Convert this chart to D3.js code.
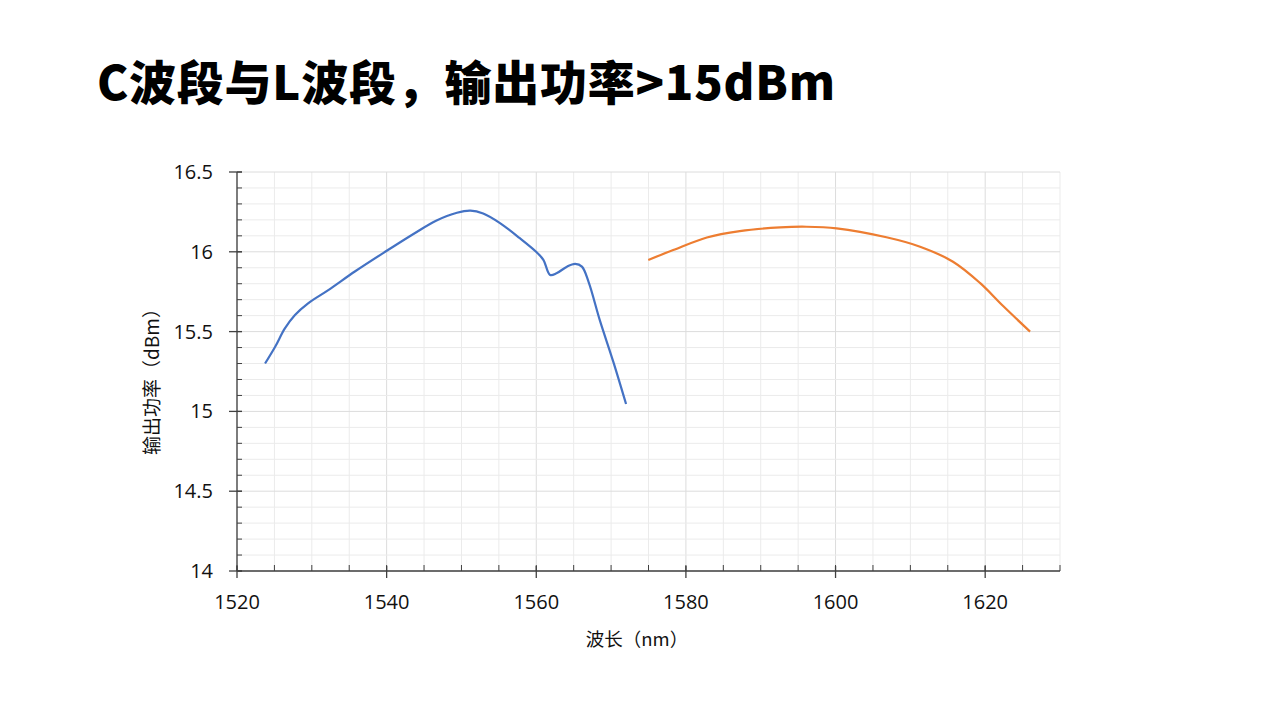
<!DOCTYPE html>
<html><head><meta charset="utf-8">
<script src="https://cdn.jsdelivr.net/npm/d3@7/dist/d3.min.js"></script>
<style>
html,body{margin:0;padding:0;background:#fff;}
svg{display:block;}
</style></head>
<body>
<svg id="chart" width="1269" height="714"></svg>
<script>
const title = "C波段与L波段，输出功率>15dBm";
const xTitle = "波长（nm）";
const yTitle = "输出功率（dBm）";
const xTicks = [1520, 1540, 1560, 1580, 1600, 1620];
const yTicks = [14, 14.5, 15, 15.5, 16, 16.5];
const cBandWl = [1523.75, 1525.1, 1526.4, 1527.75, 1529.5, 1532.2, 1535.8, 1539.8, 1543.8, 1546.6, 1549.4, 1551.2, 1552.9, 1555.15, 1557.8, 1560.05, 1560.95, 1561.85, 1562.7, 1564.1, 1565.2, 1566.1, 1567.0, 1568.5, 1570.3, 1572.0];
const cBandP  = [15.30, 15.405, 15.52, 15.604, 15.677, 15.76, 15.878, 16.0, 16.118, 16.195, 16.245, 16.258, 16.24, 16.18, 16.085, 15.997, 15.95, 15.855, 15.865, 15.907, 15.924, 15.907, 15.81, 15.57, 15.31, 15.046];
const lBandWl = [1574.97, 1578.3, 1582.8, 1587.2, 1592.6, 1596.1, 1600.15, 1606.8, 1611.3, 1615.7, 1619.3, 1622.4, 1626.0];
const lBandP  = [15.949, 16.011, 16.09, 16.13, 16.153, 16.157, 16.147, 16.091, 16.032, 15.938, 15.805, 15.66, 15.50];

const svg = d3.select("#chart");
const L = 237, R = 1060, T = 172, B = 571;
const x = d3.scaleLinear().domain([1520, 1630]).range([L, R]);
const y = d3.scaleLinear().domain([14, 16.5]).range([B, T]);

// grid
const g = svg.append("g");
const xMinor = d3.range(1520, 1630.001, 5);
const yMinor = d3.range(0, 26).map(i => 14 + i * 0.1);
g.selectAll(".vg").data(xMinor).join("line")
  .attr("x1", d => x(d)).attr("x2", d => x(d)).attr("y1", T).attr("y2", B)
  .attr("stroke", d => (Math.abs(d % 20) < 1e-6 ? "#dcdcdc" : "#ebebeb")).attr("stroke-width", 1);
g.selectAll(".hg").data(yMinor).join("line")
  .attr("x1", L).attr("x2", R).attr("y1", d => y(d)).attr("y2", d => y(d))
  .attr("stroke", (d, i) => (i % 5 === 0 ? "#dcdcdc" : "#ebebeb")).attr("stroke-width", 1);

const axisColor = "#404040";
// x axis
const xa = svg.append("g").attr("transform", `translate(0,${B})`);
xa.append("line").attr("x1", L).attr("x2", R).attr("stroke", axisColor).attr("stroke-width", 1.3);
xa.selectAll(".mt").data(xMinor).join("line")
  .attr("x1", d => x(d)).attr("x2", d => x(d)).attr("y1", -6).attr("y2", 0)
  .attr("stroke", axisColor);
xa.selectAll(".Mt").data(xTicks).join("line")
  .attr("x1", d => x(d)).attr("x2", d => x(d)).attr("y1", -5).attr("y2", 7)
  .attr("stroke", axisColor).attr("stroke-width", 1.3);
xa.selectAll(".xl").data(xTicks).join("text")
  .attr("x", d => x(d)).attr("y", 38).attr("text-anchor", "middle")
  .attr("font-family", "'Open Sans','Noto Sans',sans-serif").attr("font-size", 20).attr("fill", "#111")
  .text(d => d);

// y axis
const ya = svg.append("g").attr("transform", `translate(${L},0)`);
ya.append("line").attr("y1", T).attr("y2", B).attr("stroke", axisColor).attr("stroke-width", 1.3);
ya.selectAll(".mt").data(yMinor).join("line")
  .attr("y1", d => y(d)).attr("y2", d => y(d)).attr("x1", 0).attr("x2", 5)
  .attr("stroke", axisColor);
ya.selectAll(".Mt").data(yTicks).join("line")
  .attr("y1", d => y(d)).attr("y2", d => y(d)).attr("x1", -8).attr("x2", 5)
  .attr("stroke", axisColor).attr("stroke-width", 1.3);
ya.selectAll(".yl").data(yTicks).join("text")
  .attr("x", -24).attr("y", d => y(d) + 7).attr("text-anchor", "end")
  .attr("font-family", "'Open Sans','Noto Sans',sans-serif").attr("font-size", 20).attr("fill", "#111")
  .text(d => d);

// axis titles
svg.append("text").attr("x", 637).attr("y", 646).attr("text-anchor", "middle")
  .attr("font-family", "'Noto Sans CJK SC','Open Sans',sans-serif").attr("font-size", 18.5).attr("fill", "#111")
  .text(xTitle);
svg.append("text").attr("transform", "translate(159,377) rotate(-90)").attr("text-anchor", "middle")
  .attr("font-family", "'Noto Sans CJK SC','Open Sans',sans-serif").attr("font-size", 19).attr("fill", "#111")
  .text(yTitle);

// lines
const line = d3.line().x(d => x(d[0])).y(d => y(d[1])).curve(d3.curveCatmullRom.alpha(0.5));
svg.append("path").datum(d3.zip(cBandWl, cBandP)).attr("d", line)
  .attr("fill", "none").attr("stroke", "#4472C4").attr("stroke-width", 2.2).attr("stroke-linejoin", "round");
svg.append("path").datum(d3.zip(lBandWl, lBandP)).attr("d", line)
  .attr("fill", "none").attr("stroke", "#ED7D31").attr("stroke-width", 2.2).attr("stroke-linejoin", "round");

// title
svg.append("text").attr("x", 97).attr("y", 100)
  .attr("font-family", "'Noto Sans CJK SC',sans-serif").attr("font-weight", 900).attr("font-size", 47).attr("fill", "#000")
  .attr("textLength", 738).attr("lengthAdjust", "spacing")
  .text(title);
</script>
</body></html>
